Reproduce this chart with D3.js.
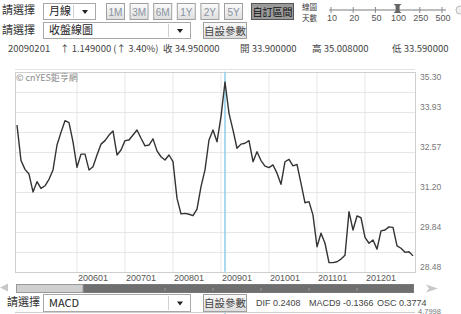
<!DOCTYPE html>
<html>
<head>
<meta charset="utf-8">
<script src="https://cdn.jsdelivr.net/npm/d3@7"></script>
<style>
  html, body { margin: 0; padding: 0; background: #fff; }
  svg { display: block; }
  text { font-family: "Liberation Sans", Arial, "Noto Sans CJK TC", sans-serif; }
  .cjk { font-family: "Noto Sans CJK TC", sans-serif; }
</style>
</head>
<body>
<div id="chart"></div>
<script>
// monthly closes, 2004/10 .. 2013/01
const startMonth = new Date(2004, 9, 1);
const endMonth = new Date(2013, 0, 1);
const closes = [
  33.48, 32.27, 31.97, 31.81, 31.20, 31.55, 31.32, 31.41, 31.63, 31.95,
  32.80, 33.23, 33.63, 33.56, 32.91, 32.04, 32.49, 32.49, 31.95, 32.06,
  32.46, 32.83, 32.95, 33.14, 33.28, 32.46, 32.63, 32.95, 32.97, 33.14,
  33.31, 33.03, 32.77, 32.80, 33.01, 32.60, 32.40, 32.29, 32.46, 32.23,
  30.98, 30.45, 30.47, 30.44, 30.39, 30.61, 31.38, 31.95, 32.97, 33.31,
  32.91, 33.77, 34.95, 33.88, 33.31, 32.69, 32.83, 32.86, 32.95, 32.23,
  32.57, 32.27, 32.08, 32.03, 32.12, 31.84, 31.46, 32.23, 32.31, 32.09,
  32.14, 31.49, 30.83, 30.87, 30.41, 29.33, 29.79, 29.45, 28.79, 28.79,
  28.82, 28.91, 29.04, 30.53, 29.90, 30.38, 30.32, 29.65, 29.45, 29.56,
  29.25, 29.87, 29.90, 30.01, 29.99, 29.36, 29.28, 29.14, 29.16, 29.02
];
const yTickLabels = ["28.48", "29.84", "31.20", "32.57", "33.93", "35.30"];
const yMin = 28.48, yMax = 35.30;
const xTickLabels = ["200601", "200701", "200801", "200901", "201001", "201101", "201201"];
const cursorMonth = "200902";

const rangeButtons = ["1M", "3M", "6M", "1Y", "2Y", "5Y"];
const daySteps = ["10", "20", "50", "100", "250", "500"];
const infoItems = [
  { label: "20090201", x: 8 },
  { label: "↑ 1.149000 (↑ 3.40%)", x: 60 },
  { label: "收 34.950000", x: 163 },
  { label: "開 33.900000", x: 240 },
  { label: "高 35.008000", x: 312 },
  { label: "低 33.590000", x: 392 }
];
const macdItems = [
  { label: "DIF 0.2408", x: 256 },
  { label: "MACD9 -0.1366", x: 309 },
  { label: "OSC 0.3774", x: 377 }
];

const width = 461, height = 314;
const margin = { top: 71.7, right: 46, bottom: 42.3, left: 15 };
const plotW = width - margin.left - margin.right;
const plotH = height - margin.top - margin.bottom;

const fmt = d3.timeFormat("%Y%m");
const months = d3.timeMonth.range(startMonth, d3.timeMonth.offset(endMonth, 1)).map(fmt);
const data = months.map((m, i) => ({ month: m, value: closes[i] }));

const svg = d3.select("#chart").append("svg")
  .attr("width", width)
  .attr("height", height);

const defs = svg.append("defs");
const grad = defs.append("linearGradient").attr("id", "btn").attr("x1", 0).attr("y1", 0).attr("x2", 0).attr("y2", 1);
grad.append("stop").attr("offset", "0%").attr("stop-color", "#fbfbfb");
grad.append("stop").attr("offset", "100%").attr("stop-color", "#dedede");

// ---------- toolbar ----------
function dropdown(x, y, w, h, label) {
  const g = svg.append("g").attr("transform", `translate(${x},${y})`);
  g.append("rect").attr("x", 0.5).attr("y", 0.5).attr("width", w).attr("height", h)
    .attr("fill", "#fff").attr("stroke", "#a8a8a8");
  g.append("line").attr("x1", w - 21.5).attr("x2", w - 21.5).attr("y1", 2).attr("y2", h - 1)
    .attr("stroke", "#d0d0d0");
  g.append("path").attr("d", `M${w - 13},${h / 2 - 1} l6,0 l-3,4 z`).attr("fill", "#222");
  g.append("text").attr("class", "cjk").attr("x", 6).attr("y", h / 2 + 4)
    .attr("font-size", 11).attr("fill", "#222").text(label);
}
function button(x, y, w, h, label, opts) {
  const g = svg.append("g").attr("transform", `translate(${x},${y})`);
  g.append("rect").attr("x", 0.5).attr("y", 0.5).attr("width", w).attr("height", h)
    .attr("fill", opts.pressed ? "#9a9a9a" : "url(#btn)").attr("stroke", opts.pressed ? "#555" : "#a0a0a0");
  g.append("text").attr("class", opts.cjk ? "cjk" : null)
    .attr("x", w / 2 + 0.5).attr("y", h / 2 + 4.5)
    .attr("text-anchor", "middle").attr("font-size", opts.size)
    .attr("fill", opts.color).text(label);
}

svg.append("text").attr("class", "cjk").attr("x", 2).attr("y", 14)
  .attr("font-size", 11).attr("fill", "#333").text("請選擇");
dropdown(43, 3, 52, 16, "月線");

const btnX = d3.scalePoint().domain(rangeButtons).range([106, 224]);
rangeButtons.forEach(b => button(btnX(b), 3, 18, 16, b,
  { size: 10, color: "#8a93a0" }));
button(251, 3, 42, 16, "自訂區間", { pressed: true, cjk: true, size: 10, color: "#111" });

svg.append("text").attr("class", "cjk").attr("x", 302).attr("y", 9.5)
  .attr("font-size", 7.5).attr("fill", "#333").text("線圖");
svg.append("text").attr("class", "cjk").attr("x", 302).attr("y", 20.5)
  .attr("font-size", 7.5).attr("fill", "#333").text("天數");

const stepX = d3.scalePoint().domain(daySteps).range([331, 442]);
svg.append("line").attr("x1", 329).attr("x2", 446).attr("y1", 10).attr("y2", 10)
  .attr("stroke", "#bdbdbd").attr("stroke-width", 2);
daySteps.forEach(s => {
  svg.append("line").attr("x1", stepX(s)).attr("x2", stepX(s)).attr("y1", 7).attr("y2", 13)
    .attr("stroke", "#888");
  svg.append("text").attr("x", stepX(s) + 1).attr("y", 21).attr("text-anchor", "middle")
    .attr("font-size", 9).attr("fill", "#555").text(s);
});
svg.append("path").attr("d", `M${stepX("100") - 4},4 h8 l-2,2 v5 l2,2 h-8 l2,-2 v-5 z`)
  .attr("fill", "#666");
svg.append("circle").attr("cx", 460).attr("cy", 10).attr("r", 4)
  .attr("fill", "#f0f0f0").attr("stroke", "#bbb");

svg.append("text").attr("class", "cjk").attr("x", 2).attr("y", 34)
  .attr("font-size", 11).attr("fill", "#333").text("請選擇");
dropdown(43, 22, 147, 16, "收盤線圖");
button(203, 22, 43, 16, "自設參數", { cjk: true, size: 10.5, color: "#444" });

infoItems.forEach(d => {
  svg.append("text").attr("class", "cjk").attr("x", d.x).attr("y", 52)
    .attr("font-size", 9.5).attr("fill", "#444").text(d.label);
});

// ---------- price chart ----------
const x = d3.scalePoint().domain(months).range([17, 413]);
const y = d3.scaleLinear().domain([yMin, yMax]).range([margin.top + plotH, margin.top]);

svg.append("line").attr("x1", margin.left).attr("x2", margin.left + plotW)
  .attr("y1", 69.5).attr("y2", 69.5).attr("stroke", "#e4e4e4");

const gridVals = d3.range(11).map(i => yMin + i * (yMax - yMin) / 10);
svg.append("g").selectAll("line").data(gridVals).join("line")
  .attr("x1", margin.left).attr("x2", margin.left + plotW)
  .attr("y1", d => Math.round(y(d)) + 0.5).attr("y2", d => Math.round(y(d)) + 0.5)
  .attr("stroke", "#e6e6e6");

svg.append("g").selectAll("line").data(xTickLabels).join("line")
  .attr("x1", d => x(d)).attr("x2", d => x(d))
  .attr("y1", margin.top).attr("y2", margin.top + plotH)
  .attr("stroke", "#e6e6e6");

svg.append("rect").attr("x", margin.left + 0.5).attr("y", Math.round(margin.top) + 0.5)
  .attr("width", plotW).attr("height", plotH)
  .attr("fill", "none").attr("stroke", "#cfcfcf");

svg.append("text").attr("class", "cjk").attr("x", 16).attr("y", 81)
  .attr("font-size", 9).attr("fill", "#8a8a8a").text("© cnYES鉅亨網");

svg.append("g").selectAll("text").data(yTickLabels).join("text")
  .attr("x", 420)
  .attr("y", d => Math.max(y(+d) - 2, 80))
  .attr("font-size", 8.5).attr("fill", "#777").text(d => d);

// cursor
svg.append("line").attr("x1", x(cursorMonth)).attr("x2", x(cursorMonth))
  .attr("y1", margin.top).attr("y2", margin.top + plotH)
  .attr("stroke", "#8ccfe6").attr("stroke-width", 1.5);
svg.append("line").attr("x1", x(cursorMonth)).attr("x2", x(cursorMonth))
  .attr("y1", 312).attr("y2", 314)
  .attr("stroke", "#8ccfe6").attr("stroke-width", 1.5);

const line = d3.line().x(d => x(d.month)).y(d => y(d.value));
svg.append("path").datum(data)
  .attr("fill", "none").attr("stroke", "#333").attr("stroke-width", 1.4)
  .attr("stroke-linejoin", "round").attr("d", line);

svg.append("g").selectAll("text").data(xTickLabels).join("text")
  .attr("x", d => x(d) + 1).attr("y", 281)
  .attr("font-size", 9).attr("fill", "#555").text(d => d);

// ---------- navigator ----------
svg.append("path").attr("d", "M0,287.5 l8,-4 v8 z").attr("fill", "#c8c8c8");
svg.append("path").attr("d", "M438,288.5 l-12,-4 l3,4 l-3,4 z").attr("fill", "#c8c8c8");
svg.append("rect").attr("x", 16.5).attr("y", 284.5).attr("width", 397).attr("height", 8)
  .attr("fill", "#6f6f6f").attr("stroke", "#777");
svg.append("rect").attr("x", 16.5).attr("y", 284.5).attr("width", 66.5).attr("height", 8)
  .attr("fill", "#cfcfcf").attr("stroke", "#999");
svg.append("g").selectAll("line").data(xTickLabels.slice(2)).join("line")
  .attr("x1", d => x(d) - 8).attr("x2", d => x(d) - 8)
  .attr("y1", 288).attr("y2", 291).attr("stroke", "#999");

// ---------- MACD row ----------
svg.append("text").attr("class", "cjk").attr("x", 7).attr("y", 306)
  .attr("font-size", 11).attr("fill", "#333").text("請選擇");
dropdown(43, 294, 147, 17, "MACD");
button(203, 294, 43, 17, "自設參數", { cjk: true, size: 10.5, color: "#444" });
macdItems.forEach(d => {
  svg.append("text").attr("x", d.x).attr("y", 306)
    .attr("font-size", 9).attr("fill", "#444").text(d.label);
});
svg.append("line").attr("x1", margin.left).attr("x2", margin.left + plotW)
  .attr("y1", 312.5).attr("y2", 312.5).attr("stroke", "#cfcfcf");
svg.append("text").attr("x", 418).attr("y", 313.5).attr("font-size", 7.5)
  .attr("fill", "#777").text("4.7998");
</script>
</body>
</html>
